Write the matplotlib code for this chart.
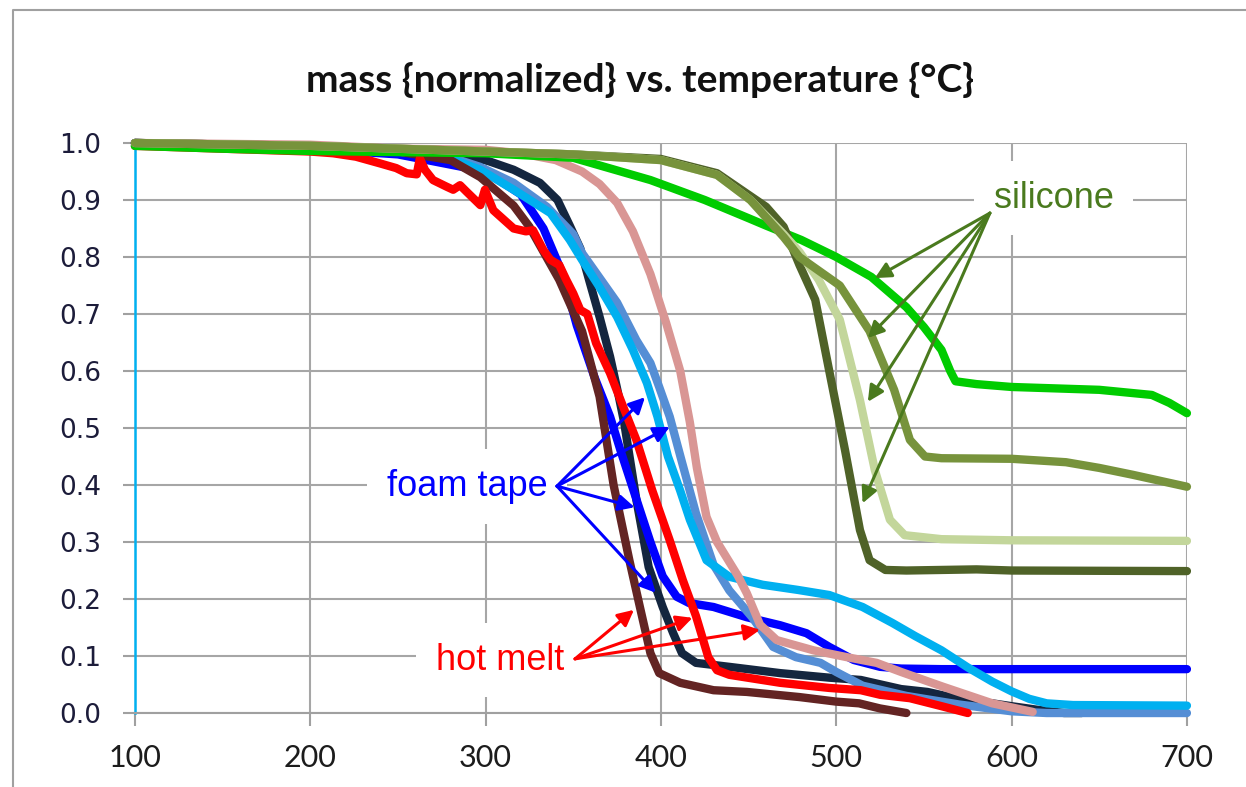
import matplotlib.pyplot as plt
from matplotlib.lines import Line2D

# ---- data: temperature {C} vs normalized mass ----
# foam tape
navy_x = [100, 200, 250, 280, 300, 316, 331, 341, 348, 354, 359, 365, 371, 376, 379, 386, 393, 401, 407, 412, 420, 439, 468, 496, 514, 537, 552, 574, 589, 600, 614, 630, 640]
navy_y = [1.0, 0.995, 0.985, 0.975, 0.97, 0.953, 0.93, 0.90, 0.855, 0.815, 0.76, 0.695, 0.625, 0.555, 0.51, 0.374, 0.256, 0.186, 0.14, 0.105, 0.088, 0.081, 0.07, 0.062, 0.058, 0.042, 0.037, 0.022, 0.017, 0.012, 0.006, 0.0, 0.0]

blue_x = [100, 200, 250, 300, 320, 333, 344, 352, 362, 371, 377, 386, 394, 401, 409, 416, 430, 449, 468, 483, 496, 510, 525, 537, 560, 600, 650, 700]
blue_y = [1.0, 0.99, 0.98, 0.95, 0.91, 0.85, 0.77, 0.68, 0.59, 0.52, 0.46, 0.375, 0.30, 0.24, 0.204, 0.193, 0.186, 0.168, 0.154, 0.14, 0.116, 0.093, 0.081, 0.078, 0.077, 0.077, 0.077, 0.077]

cflower_x = [100, 200, 250, 280, 297, 316, 335, 350, 355, 375, 386, 394, 399, 405, 412, 420, 430, 439, 452, 464, 477, 491, 500, 515, 540, 570, 600, 620, 700]
cflower_y = [1.0, 0.995, 0.985, 0.975, 0.958, 0.93, 0.888, 0.84, 0.807, 0.72, 0.654, 0.614, 0.572, 0.52, 0.44, 0.35, 0.26, 0.215, 0.168, 0.116, 0.098, 0.088, 0.072, 0.048, 0.03, 0.015, 0.003, 0.0, 0.0]

sky_x = [100, 200, 250, 278, 297, 316, 337, 348, 355, 365, 375, 384, 392, 398, 404, 411, 416.5, 426, 439, 458, 478, 496, 515, 532, 545, 560, 575, 589, 600, 610, 620, 635, 700]
sky_y = [0.995, 0.995, 0.985, 0.975, 0.953, 0.918, 0.877, 0.83, 0.795, 0.747, 0.695, 0.637, 0.579, 0.52, 0.45, 0.39, 0.339, 0.268, 0.239, 0.225, 0.216, 0.207, 0.186, 0.158, 0.135, 0.11, 0.08, 0.055, 0.038, 0.025, 0.017, 0.014, 0.013]

# hot melt
brown_x = [100, 200, 250, 280, 297, 316, 325, 342, 355, 365, 373, 382, 388, 394, 399, 411, 430, 449, 479, 500, 513, 525, 540]
brown_y = [1.0, 0.995, 0.985, 0.97, 0.94, 0.89, 0.853, 0.76, 0.67, 0.555, 0.40, 0.268, 0.186, 0.105, 0.07, 0.053, 0.04, 0.037, 0.028, 0.02, 0.017, 0.008, 0.0]

red_x = [100, 150, 200, 213, 226, 240, 249, 255, 260.7, 262.5, 265.4, 270, 278, 281.5, 285.4, 289, 297, 299.6, 304.4, 316, 323, 327, 333, 337, 342, 346, 350, 354, 358, 363, 371, 378.5, 386, 395, 405, 412.5, 420, 427, 432, 439, 468, 496, 514, 525, 542, 560, 575]
red_y = [0.995, 0.99, 0.985, 0.982, 0.976, 0.964, 0.956, 0.947, 0.945, 0.973, 0.953, 0.935, 0.923, 0.918, 0.926, 0.915, 0.891, 0.918, 0.882, 0.85, 0.845, 0.847, 0.812, 0.795, 0.786, 0.76, 0.736, 0.707, 0.70, 0.649, 0.596, 0.537, 0.479, 0.391, 0.303, 0.233, 0.17, 0.098, 0.075, 0.067, 0.053, 0.044, 0.04, 0.032, 0.026, 0.012, 0.0]

pink_x = [100, 200, 250, 300, 320, 340, 355, 365, 375, 384, 394, 403, 411, 416.5, 420.5, 426, 432, 438, 444, 449, 456.5, 466, 487, 506, 523, 537, 561, 589, 612]
pink_y = [1.0, 0.997, 0.99, 0.988, 0.982, 0.97, 0.95, 0.928, 0.895, 0.845, 0.77, 0.684, 0.60, 0.51, 0.43, 0.344, 0.30, 0.27, 0.24, 0.21, 0.155, 0.128, 0.11, 0.098, 0.088, 0.072, 0.046, 0.017, 0.002]

# silicone
green_x = [100, 150, 200, 250, 300, 350, 394, 425, 450, 460, 480, 500, 520, 540, 550, 560, 565, 568, 580, 600, 650, 680, 690, 700]
green_y = [0.995, 0.99, 0.986, 0.984, 0.982, 0.974, 0.935, 0.90, 0.868, 0.855, 0.83, 0.80, 0.765, 0.712, 0.677, 0.637, 0.60, 0.582, 0.577, 0.572, 0.567, 0.558, 0.544, 0.526]

olive_x = [100, 200, 300, 350, 400, 432, 451, 470, 479, 502, 519, 533, 542, 550.6, 560, 600, 631, 650, 669, 700]
olive_y = [1.0, 0.995, 0.985, 0.98, 0.97, 0.944, 0.90, 0.835, 0.80, 0.75, 0.67, 0.567, 0.479, 0.45, 0.447, 0.446, 0.44, 0.43, 0.418, 0.397]

light_x = [100, 200, 300, 350, 400, 432, 451, 470, 479, 490, 502, 513.5, 522, 530.6, 539, 560, 600, 700]
light_y = [1.0, 0.995, 0.985, 0.98, 0.97, 0.944, 0.90, 0.84, 0.809, 0.76, 0.69, 0.549, 0.426, 0.339, 0.312, 0.305, 0.303, 0.302]

dolive_x = [100, 200, 300, 350, 400, 432, 460, 470, 479, 488, 496, 505, 513.5, 519, 528, 540, 580, 600, 700]
dolive_y = [1.0, 0.995, 0.985, 0.98, 0.972, 0.947, 0.888, 0.853, 0.786, 0.725, 0.60, 0.461, 0.321, 0.268, 0.251, 0.25, 0.252, 0.25, 0.249]

x_ticks = [100, 200, 300, 400, 500, 600, 700]
y_ticks = [0.0, 0.1, 0.2, 0.3, 0.4, 0.5, 0.6, 0.7, 0.8, 0.9, 1.0]

fig = plt.figure(figsize=(12.46, 7.87), dpi=100)
ax = fig.add_axes([0.1083, 0.0940, 0.8443, 0.7243])

lw = 6
series = [
    (navy_x, navy_y, '#14263F'),
    (blue_x, blue_y, '#0000FF'),
    (cflower_x, cflower_y, '#558ED5'),
    (sky_x, sky_y, '#00B0F0'),
    (brown_x, brown_y, '#632423'),
    (red_x, red_y, '#FF0000'),
    (pink_x, pink_y, '#D99694'),
    (green_x, green_y, '#00CC00'),
    (dolive_x, dolive_y, '#4F6228'),
    (light_x, light_y, '#C3D69B'),
    (olive_x, olive_y, '#77933C'),
]
for xs, ys, c in series:
    ax.plot(xs, ys, color=c, lw=lw, solid_capstyle='round', solid_joinstyle='round',
            clip_on=False, zorder=3)

ax.set_xlim(100, 700)
ax.set_ylim(0, 1.0)
ax.set_xticks(x_ticks)
ax.set_yticks(y_ticks)
ax.set_yticklabels([f'{v:.1f}' for v in y_ticks], fontsize=19, color='#1C1C3A',
                   family='DejaVu Sans')
ax.set_xticklabels([str(v) for v in x_ticks], fontsize=22, color='#1C1C1C', family='Lato')
ax.tick_params(axis='y', length=9, width=1.5, color='#A0A0A0', pad=15)
ax.tick_params(axis='x', length=9, width=1.5, color='#A0A0A0', pad=13)
ax.grid(True, color='#A6A6A6', lw=1.5, zorder=0)
ax.set_axisbelow(True)
for s in ['top', 'right']:
    ax.spines[s].set_visible(False)
ax.spines['bottom'].set_color('#A0A0A0')
ax.spines['bottom'].set_linewidth(1.5)
ax.spines['left'].set_color('#00B0F0')
ax.spines['left'].set_linewidth(1.8)

fig.text(0.514, 0.898, 'mass {normalized} vs. temperature {°C}', ha='center', va='center',
         fontsize=28, fontweight='bold', family='Lato', color='#111111')

# annotations
sil_c = '#4A7A1E'
box = dict(boxstyle='square,pad=0.55', fc='white', ec='none')
ax.text(624, 0.9035, 'silicone', color=sil_c, fontsize=26, ha='center', va='center',
        family='Liberation Sans', bbox=box, zorder=4)
ax.text(289.4, 0.398, 'foam tape', color='#0000FF', fontsize=26, ha='center', va='center',
        family='Liberation Sans', bbox=box, zorder=4)
ax.text(308.2, 0.093, 'hot melt', color='#FF0000', fontsize=26, ha='center', va='center',
        family='Liberation Sans', bbox=box, zorder=4)

sil_src = (587.6, 0.877)
sil_tips = [(522, 0.763), (518, 0.658), (518, 0.546), (515, 0.368)]
foam_src = (340.7, 0.398)
foam_tips = [(390.9, 0.554), (405, 0.502), (385, 0.361), (397, 0.211)]
melt_src = (351, 0.095)
melt_tips = [(384.6, 0.181), (418, 0.167), (456.5, 0.146)]

for src, tips, c in [(sil_src, sil_tips, sil_c), (foam_src, foam_tips, '#0000FF'),
                     (melt_src, melt_tips, '#FF0000')]:
    for t in tips:
        ax.annotate('', xy=t, xytext=src, zorder=5,
                    arrowprops=dict(arrowstyle='-|>', color=c, lw=2.2, mutation_scale=24,
                                    shrinkA=0, shrinkB=0))

# outer frame of the chart area
fig.add_artist(Line2D([13 / 1246, 13 / 1246, 1.0], [0.0, 1 - 10 / 787, 1 - 10 / 787],
                      transform=fig.transFigure, color='#A0A0A0', lw=1.5))

fig.savefig('out.png', dpi=100, facecolor='white')
